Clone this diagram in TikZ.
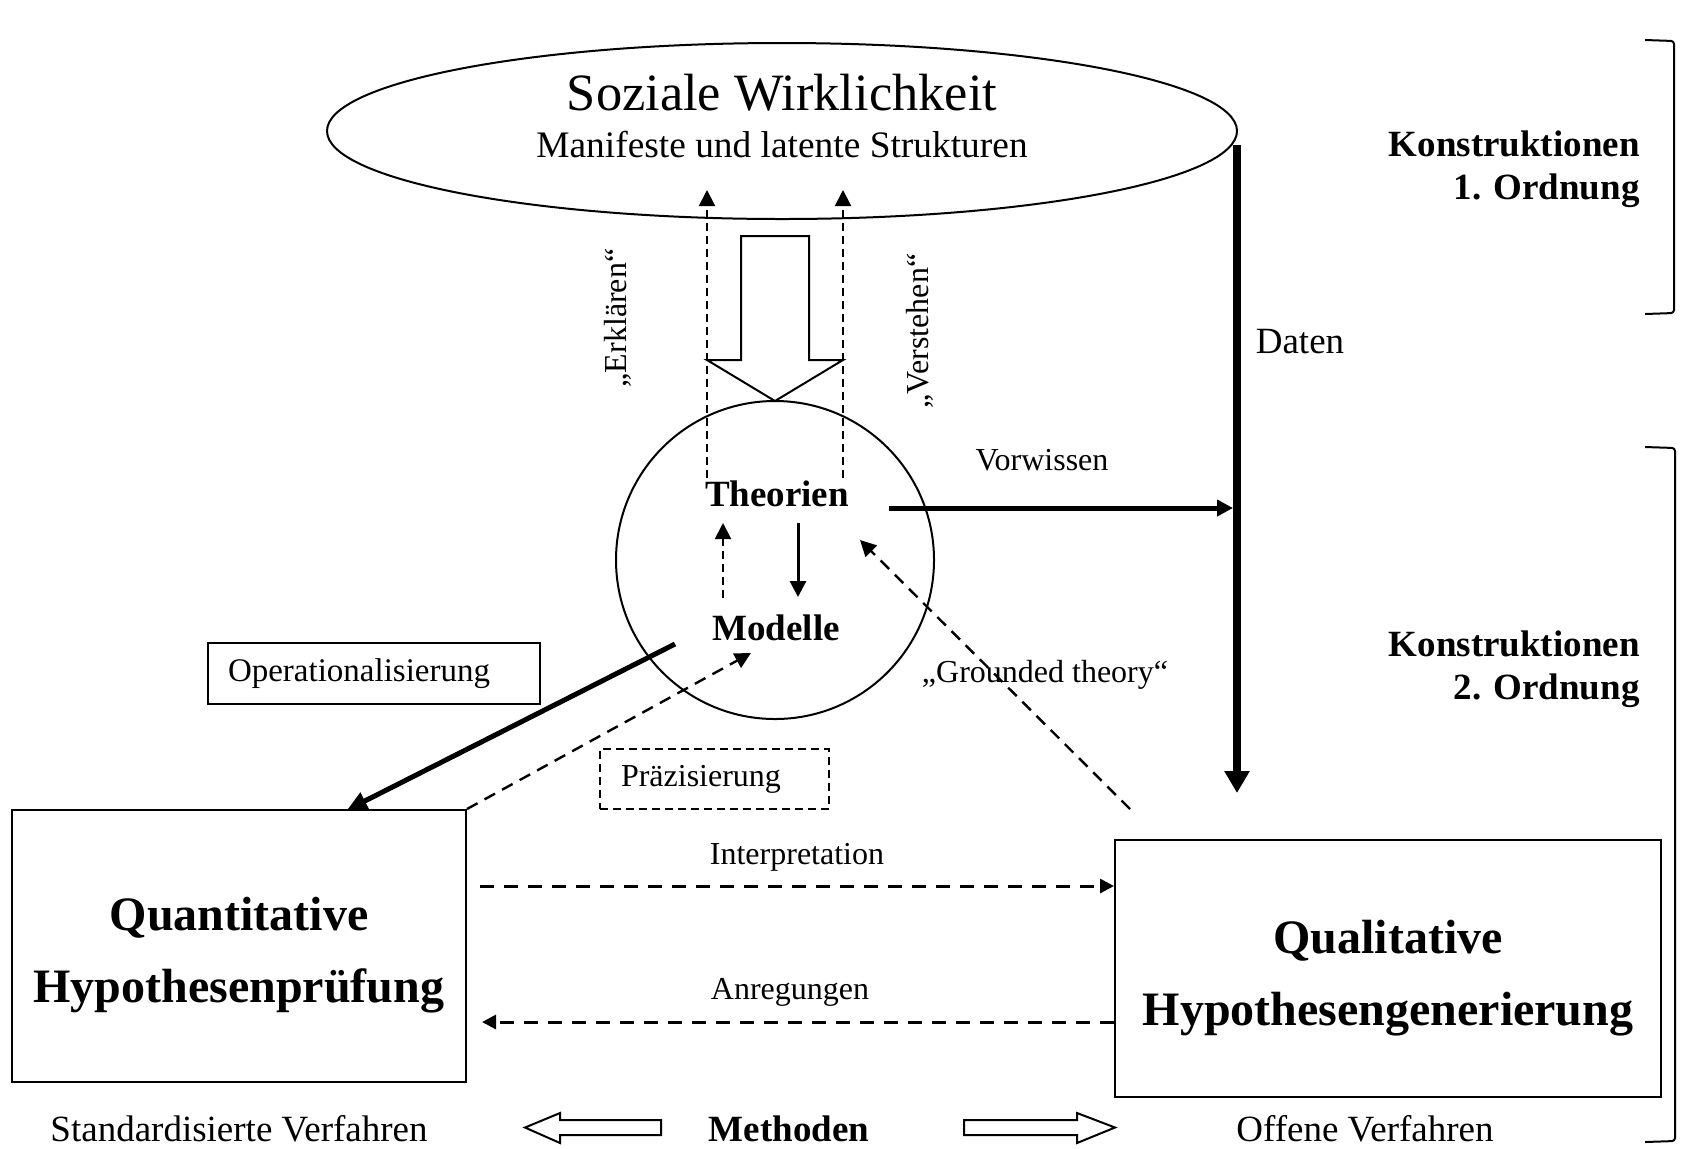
\documentclass[tikz,border=0pt]{standalone}
\usepackage{fontspec}
\setmainfont{Liberation Serif}
\usepackage{tikz}
\usetikzlibrary{shapes.geometric,arrows.meta}

\tikzset{
    txt/.style={inner sep=0pt, anchor=base, font=\fontsize{18.5}{22}\selectfont},
    klein/.style={inner sep=0pt, anchor=base, font=\fontsize{16}{19}\selectfont},
    fett/.style={inner sep=0pt, anchor=base, font=\fontsize{18.5}{22}\selectfont\bfseries},
    grossbox/.style={draw, line width=1pt},
    grosstext/.style={inner sep=0pt, align=center, font=\fontsize{24}{36}\selectfont\bfseries},
    kasten/.style={draw, line width=1pt, align=left, inner ysep=0pt},
    pfeil/.style={-{Triangle[length=8pt,width=8pt]}},
    strich/.style={dash pattern=on 4pt off 2.5pt, line width=1pt},
    langstrich/.style={dash pattern=on 7pt off 5pt, line width=1.5pt},
    hohl/.style={draw, line width=1pt, line join=miter},
    klammer/.style={draw, line width=1pt, rounded corners=1.5pt}
}

\begin{document}
\begin{tikzpicture}[x=0.5pt, y=-0.5pt]
    \useasboundingbox (0,0) rectangle (1684,1148);

    % obere Ebene
    \node[draw, ellipse, line width=1pt, inner sep=0pt, minimum width=455pt, minimum height=88pt] (wirk) at (782,131) {};
    \node[txt, font=\fontsize{26.2}{30}\selectfont] (soz) at (782,110) {Soziale Wirklichkeit};
    \node[txt, font=\fontsize{18.7}{22}\selectfont] (manif) at (782,157) {Manifeste und latente Strukturen};

    % Theorien und Modelle
    \node[draw, circle, line width=1pt, inner sep=0pt, minimum size=159pt] (kreis) at (775,560) {};
    \node[fett] (theo) at (777,506) {Theorien};
    \node[fett] (mod) at (776,640) {Modelle};

    \begin{scope}[every node/.style={klein}]
        \node[rotate=90, anchor=center] (erkl) at (618,318) {„Erklären“};
        \node[rotate=90, anchor=center] (verst) at (920,331) {„Verstehen“};
        \node (vorw) at (1042,470) {Vorwissen};
        \node (grounded) at (1045,682) {„Grounded theory“};
        \node (interp) at (797,864) {Interpretation};
        \node (anreg) at (790,999) {Anregungen};
    \end{scope}
    \node[txt] (daten) at (1300,353) {Daten};

    \node[kasten, anchor=center, minimum height=30.5pt, text width=146pt, inner xsep=10pt,
          font=\fontsize{16.5}{19}\selectfont] (oper) at (374,673.5) {Operationalisierung};
    \node[kasten, dash pattern=on 4pt off 2.5pt, anchor=center, minimum height=30pt, text width=93.5pt,
          inner xsep=10.5pt, font=\fontsize{16}{19}\selectfont] (praez) at (714.5,779) {Präzisierung};

    % Verfahren
    \node[grossbox, minimum width=227pt, minimum height=136pt] (quant) at (239,946) {};
    \node[grosstext] (quanttxt) at (239,955) {Quantitative\\Hypothesenprüfung};
    \node[grossbox, minimum width=273pt, minimum height=128.5pt] (qual) at (1388,968.5) {};
    \node[grosstext] (qualtxt) at (1388,978) {Qualitative\\Hypothesengenerierung};

    \node[txt] (std) at (239,1141) {Standardisierte Verfahren};
    \node[fett] (meth) at (789,1141) {Methoden};
    \node[txt] (offen) at (1365,1141) {Offene Verfahren};

    % Konstruktionen
    \begin{scope}[every node/.style={inner sep=0pt, anchor=east, align=right,
                  font=\fontsize{18.5}{21.5}\selectfont\bfseries}]
        \node (kon1) at (1640,169.5) {Konstruktionen\\1. Ordnung};
        \node (kon2) at (1640,669.5) {Konstruktionen\\2. Ordnung};
    \end{scope}
    \draw[klammer] (1645,40) -- (1674,41) -- (1674,313) -- (1645,314);
    \draw[klammer] (1645,447) -- (1675,448) -- (1675,1141) -- (1645,1142);

    % Endpunkte
    \coordinate (e1) at (707,478);
    \coordinate (e2) at (707,190);
    \coordinate (v1) at (843,478);
    \coordinate (v2) at (843,190);
    \coordinate (tm1) at (723,598);
    \coordinate (tm2) at (723,523);
    \coordinate (mt1) at (798,523);
    \coordinate (mt2) at (798,597);
    \coordinate (vw1) at (889,508);
    \coordinate (vw2) at (1233,508);
    \coordinate (d1) at (1237,145);
    \coordinate (d2) at (1237,793);
    \coordinate (g1) at (1130,809);
    \coordinate (g2) at (860,540);
    \coordinate (o1) at (675,644);
    \coordinate (o2) at (347,810);
    \coordinate (p2) at (751,653);
    \coordinate (i1) at (480,886);
    \coordinate (a2) at (482,1022);

    % Deduktion
    \draw[hohl] (741,236) -- (809,236) -- (809,360) -- (843,360) -- (775,401) -- (707,360) -- (741,360) -- cycle;

    \begin{scope}
        \path[pfeil, strich] (e1) edge (e2);
        \path[pfeil, strich] (v1) edge (v2);
        \path[pfeil, strich] (tm1) edge (tm2);
        \path[pfeil, line width=1.5pt] (mt1) edge (mt2);
        \path[-{Triangle[length=8pt,width=8pt]}, line width=2.5pt] (vw1) edge (vw2);
        \path[-{Triangle[length=11pt,width=12pt]}, line width=4pt] (d1) edge (d2);
        \path[pfeil, dash pattern=on 6pt off 4pt, line width=1.2pt] (g1) edge (g2);
        \path[-{Triangle[length=10pt,width=9pt]}, line width=2.5pt] (o1) edge (o2);
        \path[pfeil, dash pattern=on 6pt off 4pt, line width=1.2pt] (quant.north east) edge (p2);
        \path[-{Triangle[length=7pt,width=7pt]}, langstrich] (i1) edge (i1 -| qual.west);
        \path[-{Triangle[length=7pt,width=7pt]}, langstrich] (a2 -| qual.west) edge (a2);
    \end{scope}

    % Methoden
    \draw[hohl] (661,1120) -- (560,1120) -- (560,1113) -- (525,1127.5) -- (560,1143) -- (560,1135) -- (661,1135) -- cycle;
    \draw[hohl] (964,1120) -- (1077,1120) -- (1077,1113) -- (1115,1127.5) -- (1077,1143) -- (1077,1135) -- (964,1135) -- cycle;
\end{tikzpicture}
\end{document}
